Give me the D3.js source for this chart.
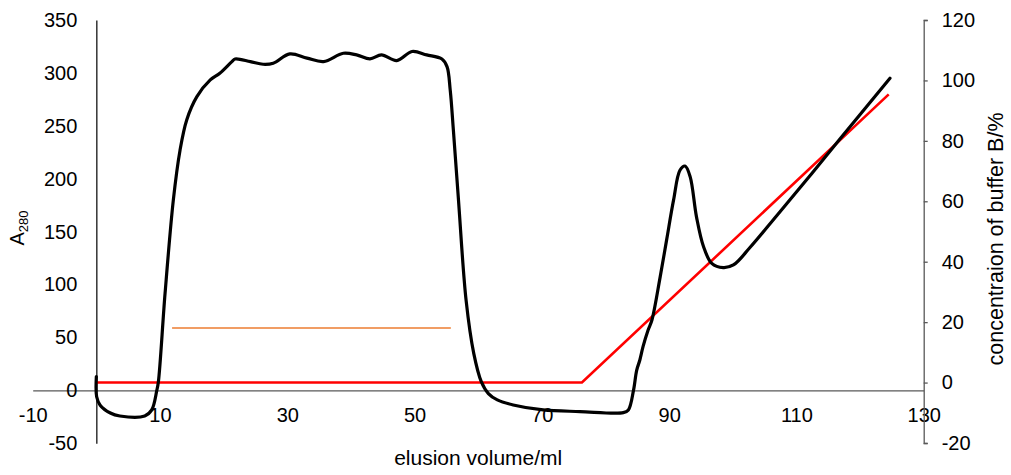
<!DOCTYPE html>
<html>
<head>
<meta charset="utf-8">
<script src="https://cdn.jsdelivr.net/npm/d3@7"></script>
<style>
  html, body { margin: 0; padding: 0; background: #fff; }
  svg { display: block; font-family: "Liberation Sans", Arial, sans-serif; }
</style>
</head>
<body>
<svg id="chart" width="1011" height="475"></svg>
<script>
// ---- data ----
const absVolume = [0, 0.05, 0.6, 2.2, 3.7, 7.6, 8.7, 9.5, 9.75, 10.8, 12.1, 13.15, 14.2, 15.8, 17.9, 19.4, 21.3, 21.8, 24.2, 26.2, 27.8, 30.4, 33.1, 35.7, 38.8, 40.9, 43, 44.8, 47.2, 49.6, 51.9, 54.3, 55.1, 55.6, 56.1, 56.9, 58.1, 59.3, 60.5, 61.6, 63, 65.5, 70.2, 76, 82.8, 83.6, 84.4, 84.9, 85.4, 85.9, 86.7, 87.3, 88.6, 89.6, 90.7, 91.7, 92.5, 93.3, 94.3, 95.4, 96.7, 98.5, 100.1, 102.7, 106.9, 111.6, 116.9, 124.7];
const absA280 = [13, -6, -14, -21.4, -24.2, -24.2, -18.5, 0, 8.2, 91.8, 180, 227, 255.6, 277.6, 293.4, 299.7, 310.7, 313.2, 310.7, 308.2, 309.2, 318, 314, 310.7, 318.6, 317, 313.2, 317, 311.6, 320.2, 317, 313.1, 306, 284, 246, 180, 85, 35, 8, -3, -9, -13.8, -18.5, -20, -21, -18.5, 0, 19, 28.7, 41.3, 57, 66.5, 107.5, 142, 180, 208, 212, 202, 164, 136, 120, 116, 118.5, 135, 165, 199, 238, 295];

const gradVolume = [0, 76.3, 124.5];
const gradB = [0, 0, 95.4];

const markVolume = [11.9, 55.7];
const markValue = [59, 59];

const xTicks = [-10, 10, 30, 50, 70, 90, 110, 130];
const yLeftTicks = [-50, 0, 50, 100, 150, 200, 250, 300, 350];
const yRightTicks = [-20, 0, 20, 40, 60, 80, 100, 120];

const xTitle = "elusion volume/ml";
const yRightTitle = "concentraion of buffer B/%";

// ---- scales ----
const svg = d3.select("#chart");
const x = d3.scaleLinear().domain([-10, 130]).range([32.7, 923.7]);
const yL = d3.scaleLinear().domain([-50, 350]).range([443.3, 20]);
const yR = d3.scaleLinear().domain([-20, 120]).range([443, 20]);

const FS = 20;
const fmt = d => String(d);

// x axis
const gx = svg.append("g").attr("transform", `translate(0,${yL(0)})`)
  .call(d3.axisBottom(x).tickValues(xTicks).tickSize(0).tickPadding(17.4).tickFormat(fmt));
gx.select(".domain").attr("stroke", "#595959").attr("stroke-width", 1.3);
gx.selectAll("text").attr("font-size", FS).attr("font-family", "Liberation Sans, Arial, sans-serif").attr("fill", "#000");

// left axis
const gl = svg.append("g").attr("transform", `translate(${x(0)},0)`)
  .call(d3.axisLeft(yL).tickValues(yLeftTicks).tickSize(0).tickPadding(19).tickFormat(fmt));
gl.select(".domain").attr("stroke", "#000").attr("stroke-width", 1.2);
gl.selectAll("text").attr("font-size", FS).attr("font-family", "Liberation Sans, Arial, sans-serif").attr("fill", "#000");

// right axis
const gr = svg.append("g").attr("transform", `translate(${x(130)},0)`)
  .call(d3.axisRight(yR).tickValues(yRightTicks).tickSize(4).tickSizeOuter(4).tickPadding(14).tickFormat(fmt));
gr.select(".domain").attr("stroke", "#595959").attr("stroke-width", 1.3);
gr.selectAll(".tick line").attr("stroke", "#595959").attr("stroke-width", 1.3);
gr.selectAll("text").attr("font-size", FS).attr("font-family", "Liberation Sans, Arial, sans-serif").attr("fill", "#000");

// titles
svg.append("text").attr("x", x(60)).attr("y", 465).attr("text-anchor", "middle")
  .attr("font-size", 21).text(xTitle);

const lt = svg.append("text").attr("transform", "translate(23.5,228) rotate(-90)")
  .attr("text-anchor", "middle").attr("font-size", 20);
lt.append("tspan").text("A");
lt.append("tspan").attr("font-size", 13).attr("dy", 4).text("280");

svg.append("text").attr("transform", "translate(1003,239) rotate(-90)")
  .attr("text-anchor", "middle").attr("font-size", 21.5).text(yRightTitle);

// orange marker line
const markData = markVolume.map((v, i) => [v, markValue[i]]);
svg.append("path").datum(markData)
  .attr("d", d3.line().x(d => x(d[0])).y(d => yL(d[1])))
  .attr("fill", "none").attr("stroke", "#ED7D31").attr("stroke-width", 1.6);

// gradient (red)
const gradData = gradVolume.map((v, i) => [v, gradB[i]]);
svg.append("path").datum(gradData)
  .attr("d", d3.line().x(d => x(d[0])).y(d => yR(d[1])))
  .attr("fill", "none").attr("stroke", "#FF0000").attr("stroke-width", 2.6);

// absorbance (black)
const absData = absVolume.map((v, i) => [v, absA280[i]]);
svg.append("path").datum(absData)
  .attr("d", d3.line().curve(d3.curveCatmullRom.alpha(0.5)).x(d => x(d[0])).y(d => yL(d[1])))
  .attr("fill", "none").attr("stroke", "#000").attr("stroke-width", 3.2)
  .attr("stroke-linejoin", "round").attr("stroke-linecap", "round");
</script>
</body>
</html>
